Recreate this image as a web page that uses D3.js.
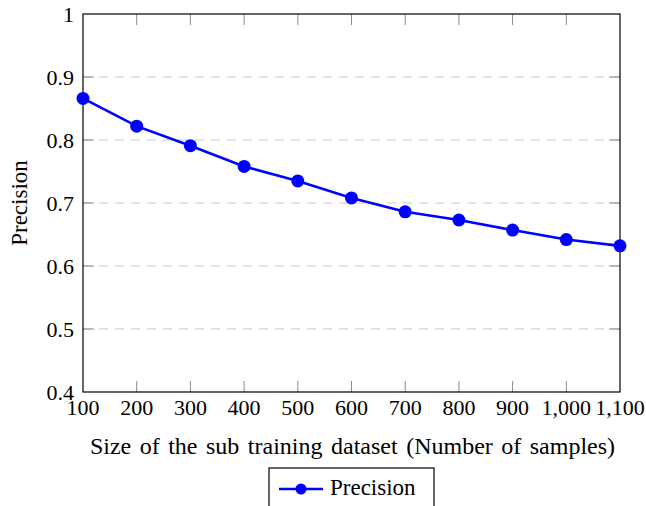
<!doctype html>
<html>
  <head>
    <meta charset="utf-8">
    <title>Precision vs sub training dataset size</title>
    <script src="https://cdnjs.cloudflare.com/ajax/libs/d3/7.8.5/d3.min.js"></script>
    <style>
      body { margin: 0; background: #fff; }
    </style>
  </head>
  <body>
    <div id="chart"></div>
    <script>
      // data
      const sizes = [100, 200, 300, 400, 500, 600, 700, 800, 900, 1000, 1100];
      const precision = [0.866, 0.822, 0.791, 0.758, 0.735, 0.708, 0.686, 0.673, 0.657, 0.642, 0.632];
      const yTicks = [0.4, 0.5, 0.6, 0.7, 0.8, 0.9, 1];
      const seriesName = 'Precision';

      const W = 646, H = 506;
      const pLeft = 83, pRight = 620, pTop = 14, pBottom = 392;
      const serif = "'Liberation Serif', 'Times New Roman', serif";

      const svg = d3.select('#chart').append('svg')
        .attr('width', W).attr('height', H)
        .attr('font-family', serif);

      const x = d3.scaleLinear().domain([100, 1100]).range([pLeft, pRight]);
      const y = d3.scaleLinear().domain([0.4, 1]).range([pBottom, pTop]);

      // dashed grid
      svg.append('g').selectAll('line')
        .data(yTicks.slice(1, -1))
        .join('line')
        .attr('x1', pLeft).attr('x2', pRight)
        .attr('y1', d => y(d)).attr('y2', d => y(d))
        .attr('stroke', '#c8c8c8').attr('stroke-width', 1)
        .attr('stroke-dasharray', '9,7');

      // inner ticks, all four sides
      const tickLen = 11;
      const tk = svg.append('g').attr('stroke', '#8a8a8a').attr('stroke-width', 1);
      tk.selectAll('.xb').data(sizes.slice(1, -1)).join('line')
        .attr('class', 'xb')
        .attr('x1', d => x(d)).attr('x2', d => x(d))
        .attr('y1', pBottom).attr('y2', pBottom - tickLen);
      tk.selectAll('.xt').data(sizes.slice(1, -1)).join('line')
        .attr('class', 'xt')
        .attr('x1', d => x(d)).attr('x2', d => x(d))
        .attr('y1', pTop).attr('y2', pTop + tickLen);
      tk.selectAll('.yl').data(yTicks.slice(1, -1)).join('line')
        .attr('class', 'yl')
        .attr('x1', pLeft).attr('x2', pLeft + tickLen)
        .attr('y1', d => y(d)).attr('y2', d => y(d));
      tk.selectAll('.yr').data(yTicks.slice(1, -1)).join('line')
        .attr('class', 'yr')
        .attr('x1', pRight).attr('x2', pRight - tickLen)
        .attr('y1', d => y(d)).attr('y2', d => y(d));

      // frame
      svg.append('rect')
        .attr('x', pLeft).attr('y', pTop)
        .attr('width', pRight - pLeft).attr('height', pBottom - pTop)
        .attr('fill', 'none').attr('stroke', '#000').attr('stroke-width', 1.2);

      // tick labels
      const fmt = d3.format(',');
      svg.append('g').selectAll('text')
        .data(sizes).join('text')
        .attr('x', d => x(d)).attr('y', 415)
        .attr('text-anchor', 'middle')
        .attr('font-size', 22)
        .text(d => fmt(d));

      svg.append('g').selectAll('text')
        .data(yTicks).join('text')
        .attr('x', pLeft - 9).attr('y', d => y(d) + 7.5)
        .attr('text-anchor', 'end')
        .attr('font-size', 22)
        .text(d => d === 1 ? '1' : d3.format('.1f')(d));

      // axis labels
      svg.append('text')
        .attr('x', (pLeft + pRight) / 2 + 1).attr('y', 454)
        .attr('text-anchor', 'middle').attr('font-size', 24)
        .attr('word-spacing', 2.5)
        .text('Size of the sub training dataset (Number of samples)');

      svg.append('text')
        .attr('transform', `translate(27, 203) rotate(-90)`)
        .attr('text-anchor', 'middle').attr('font-size', 23)
        .text('Precision');

      // series
      const line = d3.line().x((d, i) => x(sizes[i])).y(d => y(d));
      svg.append('path')
        .datum(precision)
        .attr('d', line)
        .attr('fill', 'none').attr('stroke', '#0000ff').attr('stroke-width', 2.6);

      svg.append('g').selectAll('circle')
        .data(precision).join('circle')
        .attr('cx', (d, i) => x(sizes[i])).attr('cy', d => y(d))
        .attr('r', 6.5).attr('fill', '#0000ff');

      // legend
      const lg = svg.append('g');
      lg.append('rect')
        .attr('x', 269).attr('y', 468).attr('width', 165).attr('height', 45)
        .attr('fill', '#fff').attr('stroke', '#000').attr('stroke-width', 1.2);
      lg.append('line')
        .attr('x1', 279).attr('x2', 323).attr('y1', 489).attr('y2', 489)
        .attr('stroke', '#0000ff').attr('stroke-width', 2.6);
      lg.append('circle')
        .attr('cx', 301).attr('cy', 489).attr('r', 5.5).attr('fill', '#0000ff');
      lg.append('text')
        .attr('x', 330).attr('y', 495).attr('font-size', 23)
        .text(seriesName);
    </script>
  </body>
</html>
